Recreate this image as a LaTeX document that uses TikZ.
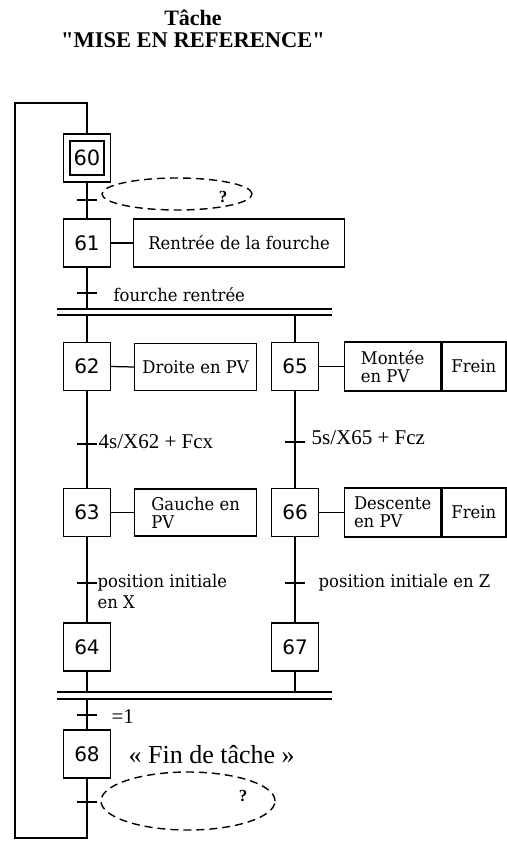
\documentclass[tikz,border=0pt]{standalone}
\usepackage{fontspec}
\setmainfont{Liberation Serif}
\newfontfamily\titlefont[Ligatures=TeXOff]{Liberation Serif}
\newfontfamily\stepfont{DejaVu Sans}
\newfontfamily\actfont[FakeStretch=0.94]{DejaVu Serif}
\usetikzlibrary{shapes.geometric}
\begin{document}
\begin{tikzpicture}[x=1pt,y=-1pt,line width=1.25pt,
  stepbox/.style={draw,minimum width=47pt,minimum height=48pt,inner sep=0pt,font=\stepfont\fontsize{20}{20}\selectfont},
  actbox/.style={draw,anchor=west,minimum height=47pt,inner sep=0pt,align=left,font=\actfont\fontsize{17.5}{18}\selectfont},
  actlbl/.style={anchor=west,inner sep=0pt,align=left,font=\actfont\fontsize{17.5}{21}\selectfont},
  tlbl/.style={anchor=west,inner sep=0pt,font=\fontsize{21}{22}\selectfont},
  qmark/.style={inner sep=0pt,font=\bfseries\fontsize{17}{17}\selectfont},
  guess/.style={draw,dash pattern=on 8pt off 5pt,line width=1.4pt,ellipse,inner sep=0pt},
  tick/.style={line width=1.25pt}]
\useasboundingbox (0,0) rectangle (506,842);
% title
\node[font=\titlefont\bfseries\fontsize{22}{22}\selectfont] (t1) at (193,18) {Tâche};
\node[font=\titlefont\bfseries\fontsize{22.5}{23}\selectfont] (t2) at (193,40) {"MISE EN REFERENCE"};
% steps
\node[stepbox] (s60) at (87,158) {};
\node[draw,minimum width=34pt,minimum height=34pt,inner sep=0pt,font=\stepfont\fontsize{21}{21}\selectfont] (s60i) at (87,158) {60};
\node[stepbox] (s61) at (87,243) {61};
\node[stepbox] (s62) at (87,366.5) {62};
\node[stepbox] (s63) at (87,512.5) {63};
\node[stepbox] (s64) at (87,647) {64};
\node[stepbox] (s65) at (295,366.5) {65};
\node[stepbox] (s66) at (295,512.5) {66};
\node[stepbox] (s67) at (295,647) {67};
\node[stepbox] (s68) at (87,754) {68};
% actions
\node[actbox,minimum width=211pt,minimum height=48pt] (a61) at (133,243) {Rentrée de la fourche};
\node[actbox,minimum width=122pt] (a62) at (134,367) {Droite en PV};
\node[actbox,minimum width=96pt,minimum height=49pt] (a65) at (344,366.5) {Montée\\en PV};
\node[actbox,minimum width=64pt,minimum height=49pt] (f65) at (a65.east) {Frein};
\node[actbox,minimum width=122pt] (a63) at (134,512.5) {Gauche en\\PV};
\node[actbox,minimum width=96pt,minimum height=49pt] (a66) at (344,512.5) {Descente\\en PV};
\node[actbox,minimum width=64pt,minimum height=49pt] (f66) at (a66.east) {Frein};
\draw (s61.east) -- (a61.west);
\draw (s62.east) -- (a62.west);
\draw (s65.east) -- (a65.west);
\draw (s63.east) -- (a63.west);
\draw (s66.east) -- (a66.west);
% coordinates
\coordinate (lt) at (87,103);
\coordinate (lc) at (15,103);
\coordinate (lb) at (87,838);
\coordinate (lbc) at (15,838);
\coordinate (b1a) at (57,309); \coordinate (b1b) at (332,309);
\coordinate (b1c) at (57,315); \coordinate (b1d) at (332,315);
\coordinate (b2a) at (57,692); \coordinate (b2b) at (332,692);
\coordinate (b2c) at (57,699); \coordinate (b2d) at (332,699);
\coordinate (b1L) at (87,315); \coordinate (b1R) at (295,315);
\coordinate (b2L) at (87,692); \coordinate (b2R) at (295,692);
\coordinate (b1top) at (87,309); \coordinate (b2bot) at (87,699);
% loop
\draw (s68.south) -- (lb) -- (lbc) -- (lc) -- (lt) -- (s60.north);
% links
\draw (s60.south) -- (s61.north);
\draw (s61.south) -- (b1top);
\draw (b1a) -- (b1b); \draw (b1c) -- (b1d);
\draw (b1L) -- (s62.north);
\draw (b1R) -- (s65.north);
\draw (s62.south) -- (s63.north);
\draw (s63.south) -- (s64.north);
\draw (s65.south) -- (s66.north);
\draw (s66.south) -- (s67.north);
\draw (s64.south) -- (b2L);
\draw (s67.south) -- (b2R);
\draw (b2a) -- (b2b); \draw (b2c) -- (b2d);
\draw (b2bot) -- (s68.north);
% ticks
\draw[tick] (77,200) -- (97,200);
\draw[tick] (77,293) -- (97,293);
\draw[tick] (77,444) -- (97,444);
\draw[tick] (285,442) -- (305,442);
\draw[tick] (77,583) -- (97,583);
\draw[tick] (285,583) -- (305,583);
\draw[tick] (77,715) -- (97,715);
\draw[tick] (77,802) -- (97,802);
% transition labels
\node[actlbl] (c61) at (113,295) {fourche rentrée};
\node[tlbl] (c62) at (98,442) {4s/X62 + Fcx};
\node[tlbl] (c65) at (311,438) {5s/X65 + Fcz};
\node[actlbl] (c63) at (97,591) {position initiale\\en X};
\node[actlbl] (c66) at (318,583) {position initiale en Z};
\node[tlbl] (c64) at (111,717) {=1};
\node[anchor=west,inner sep=0pt,font=\fontsize{26}{27}\selectfont] (fin) at (128,755) {« Fin de tâche »};
% guesses
\node[guess,minimum width=150pt,minimum height=32pt] (e1) at (177,194) {};
\node[qmark] (q1) at (223,197) {?};
\node[guess,minimum width=174pt,minimum height=58pt] (e2) at (188,801) {};
\node[qmark] (q2) at (243,796) {?};
\end{tikzpicture}
\end{document}
